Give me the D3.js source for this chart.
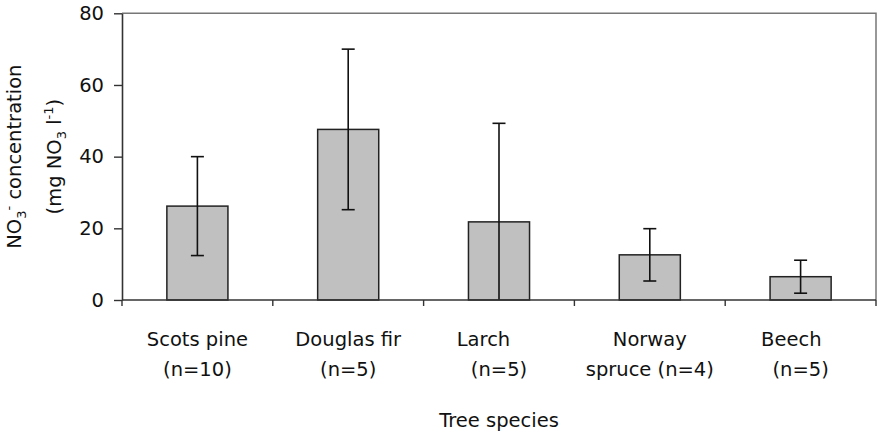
<!DOCTYPE html>
<html>
<head>
<meta charset="utf-8">
<script src="https://cdn.jsdelivr.net/npm/d3@7"></script>
<style>
  html, body { margin: 0; padding: 0; background: #fff; }
  svg { display: block; }
  text { white-space: pre; }
</style>
</head>
<body>
<svg id="chart" width="878" height="435"></svg>
<script>
const categories = ["Scots pine", "Douglas fir", "Larch", "Norway spruce", "Beech"];
const labelLine1 = ["Scots pine", "Douglas fir", "Larch\u00a0\u00a0\u00a0\u00a0\u00a0", "Norway", "Beech\u00a0\u00a0\u00a0"];
const labelLine2 = ["(n=10)", "(n=5)", "(n=5)", "spruce (n=4)", "(n=5)"];
const means = [26.2, 47.6, 21.8, 12.6, 6.5];
const errors = [13.8, 22.4, 27.5, 7.3, 4.6];
const yTicks = [0, 20, 40, 60, 80];

const svg = d3.select("#chart");
const pLeft = 122, pRight = 876, pTop = 13.3, pBottom = 300;

const x = d3.scaleBand().domain(categories).range([pLeft, pRight]).padding(0);
const y = d3.scaleLinear().domain([0, 80]).range([pBottom, pTop]);

const sansFont = "'DejaVu Sans', Verdana, sans-serif";
const catFont = "'Comic Sans MS', 'DejaVu Sans', sans-serif";

// plot border (top and right)
svg.append("path")
  .attr("d", `M${pLeft},${pTop}H${pRight}V${pBottom}`)
  .attr("fill", "none").attr("stroke", "#777").attr("stroke-width", 1.5);

// bars
const barW = x.bandwidth() * 0.405;
const data = categories.map((c, i) => ({ c, m: means[i], e: errors[i] }));

svg.append("g").selectAll("rect").data(data).join("rect")
  .attr("x", d => x(d.c) + x.bandwidth() / 2 - barW / 2)
  .attr("y", d => y(d.m))
  .attr("width", barW)
  .attr("height", d => y(0) - y(d.m))
  .attr("fill", "#c0c0c0")
  .attr("stroke", "#222")
  .attr("stroke-width", 1.5);

// error bars
const capW = 13;
const eg = svg.append("g").attr("stroke", "#111").attr("stroke-width", 1.6).attr("fill", "none");
data.forEach(d => {
  const cx = x(d.c) + x.bandwidth() / 2;
  const lo = Math.max(0, d.m - d.e), hi = d.m + d.e;
  eg.append("line").attr("x1", cx).attr("x2", cx).attr("y1", y(lo)).attr("y2", y(hi));
  eg.append("line").attr("x1", cx - capW / 2).attr("x2", cx + capW / 2).attr("y1", y(hi)).attr("y2", y(hi));
  if (d.m - d.e >= 0) {
    eg.append("line").attr("x1", cx - capW / 2).attr("x2", cx + capW / 2).attr("y1", y(lo)).attr("y2", y(lo));
  }
});

// y axis
const yAxis = svg.append("g").attr("transform", `translate(${pLeft},0)`)
  .call(d3.axisLeft(y).tickValues(yTicks).tickSize(8).tickSizeOuter(0).tickPadding(10));
yAxis.select(".domain").attr("stroke", "#333").attr("stroke-width", 1.6);
yAxis.selectAll(".tick line").attr("stroke", "#333").attr("stroke-width", 1.4);
yAxis.selectAll(".tick text").attr("font-family", sansFont).attr("font-size", 19.5).attr("fill", "#111");

// x axis line + ticks at band edges
const xg = svg.append("g");
xg.append("line").attr("x1", pLeft).attr("x2", pRight).attr("y1", pBottom).attr("y2", pBottom)
  .attr("stroke", "#333").attr("stroke-width", 1.6);
const edges = categories.map(c => x(c)).concat([x(categories[categories.length - 1]) + x.bandwidth()]);
xg.selectAll("line.tk").data(edges).join("line").attr("class", "tk")
  .attr("x1", d => d).attr("x2", d => d).attr("y1", pBottom).attr("y2", pBottom + 6)
  .attr("stroke", "#333").attr("stroke-width", 1.4);

// category labels
const lg = svg.append("g").attr("font-family", catFont).attr("font-size", 19.5).attr("fill", "#111").attr("text-anchor", "middle");
categories.forEach((c, i) => {
  const cx = x(c) + x.bandwidth() / 2;
  lg.append("text").attr("x", cx).attr("y", 346).text(labelLine1[i]);
  lg.append("text").attr("x", cx).attr("y", 376).text(labelLine2[i]);
});

// x title
svg.append("text").attr("x", (pLeft + pRight) / 2).attr("y", 427)
  .attr("text-anchor", "middle").attr("font-family", catFont).attr("font-size", 19.5).attr("fill", "#111")
  .text("Tree species");

// y title
const cy = (pTop + pBottom) / 2;
const t1 = svg.append("text").attr("transform", `translate(21,${cy}) rotate(-90)`)
  .attr("text-anchor", "middle").attr("font-family", sansFont).attr("font-size", 19.5).attr("fill", "#111");
t1.append("tspan").text("NO");
t1.append("tspan").attr("font-size", 13).attr("dy", 5).text("3");
t1.append("tspan").attr("font-size", 13).attr("dy", -13).text("-");
t1.append("tspan").attr("dy", 8).text(" concentration");

const t2 = svg.append("text").attr("transform", `translate(61,${cy}) rotate(-90)`)
  .attr("text-anchor", "middle").attr("font-family", sansFont).attr("font-size", 19.5).attr("fill", "#111");
t2.append("tspan").text("(mg NO");
t2.append("tspan").attr("font-size", 13).attr("dy", 5).text("3");
t2.append("tspan").attr("dy", -5).text(" l");
t2.append("tspan").attr("font-size", 13).attr("dy", -8).text("-1");
t2.append("tspan").attr("dy", 8).text(")");
</script>
</body>
</html>
